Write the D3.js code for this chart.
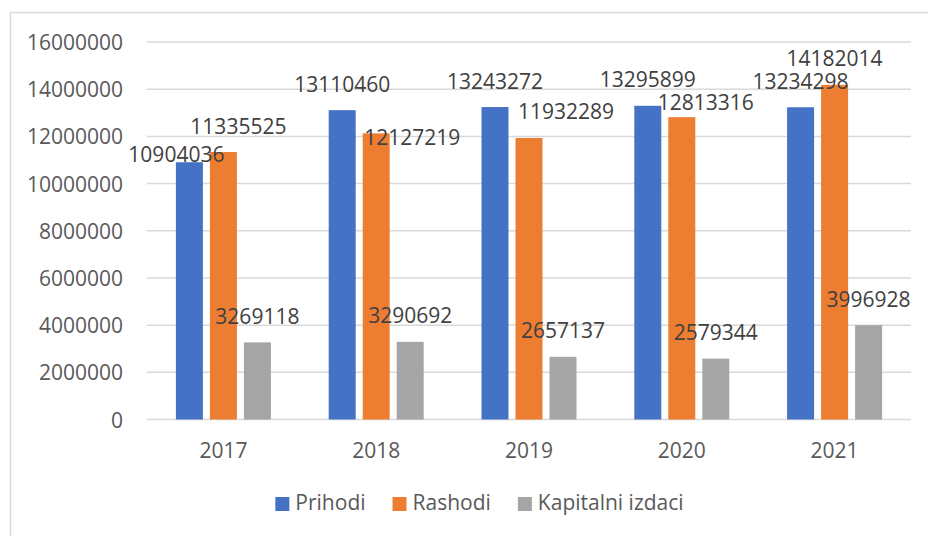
<!DOCTYPE html>
<html>
<head>
<meta charset="utf-8">
<script src="https://cdn.jsdelivr.net/npm/d3@7"></script>
<style>
  body { margin: 0; background: #fff; }
  svg { display: block; font-family: 'Open Sans', sans-serif; }
  .axis .domain { display: none; }
  .grid line { stroke: #d9d9d9; stroke-width: 1.5; }
</style>
</head>
<body>
<div id="chart"></div>
<script>
const years = ['2017', '2018', '2019', '2020', '2021'];
const seriesNames = ['Prihodi', 'Rashodi', 'Kapitalni izdaci'];
const prihodi = [10904036, 13110460, 13243272, 13295899, 13234298];
const rashodi = [11335525, 12127219, 11932289, 12813316, 14182014];
const kapitalniIzdaci = [3269118, 3290692, 2657137, 2579344, 3996928];
const yTicks = [0, 2000000, 4000000, 6000000, 8000000, 10000000, 12000000, 14000000, 16000000];

const colors = ['#4472c4', '#ed7d31', '#a5a5a5'];
// hand-moved data labels in the original (dx, dy in px), per series per year
const labelNudge = [
  [[-13, 18], [0, 0], [0, 0], [0, 0], [0, 0]],
  [[15, 0], [36, 30], [37, 0], [24, 11], [0, 0]],
  [[0, 0], [0, 0], [0, 0], [0, 0], [0, 0]],
];

const width = 928;
const height = 536;
const plot = { left: 147, right: 911, top: 42, bottom: 419.5 };

const svg = d3.select('#chart').append('svg')
  .attr('width', width)
  .attr('height', height);

// chart area border
svg.append('rect')
  .attr('x', 10.5)
  .attr('y', 12.5)
  .attr('width', 960)
  .attr('height', 600)
  .attr('fill', 'none')
  .attr('stroke', '#d9d9d9')
  .attr('stroke-width', 1.5);

const yScale = d3.scaleLinear()
  .domain([0, 16000000])
  .range([plot.bottom, plot.top]);

const xScale = d3.scaleBand()
  .domain(years)
  .range([plot.left, plot.right]);

const innerScale = d3.scaleBand()
  .domain(seriesNames)
  .range([-47.5, 47.5])
  .paddingInner(0.206);

// gridlines
svg.append('g')
  .attr('class', 'grid')
  .selectAll('line')
  .data(yTicks)
  .enter().append('line')
  .attr('x1', plot.left)
  .attr('x2', plot.right)
  .attr('y1', function(d) { return yScale(d); })
  .attr('y2', function(d) { return yScale(d); })
  .attr('stroke-width', function(d) { return d === 0 ? 2 : 1.5; });

// y axis labels
const yAxis = d3.axisLeft(yScale)
  .tickValues(yTicks)
  .tickSize(0)
  .tickPadding(0)
  .tickFormat(d3.format('d'));

svg.append('g')
  .attr('class', 'axis y')
  .attr('transform', 'translate(123,0)')
  .call(yAxis)
  .selectAll('text')
  .attr('fill', '#595959')
  .attr('font-size', 21)
  .attr('font-family', "'Open Sans', sans-serif")
  .attr('dy', '0.36em');

// x axis labels
const xAxis = d3.axisBottom(xScale)
  .tickSize(0)
  .tickPadding(0);

svg.append('g')
  .attr('class', 'axis x')
  .attr('transform', 'translate(0,458)')
  .call(xAxis)
  .selectAll('text')
  .attr('y', 0)
  .attr('dy', 0)
  .attr('fill', '#595959')
  .attr('font-size', 21)
  .attr('font-family', "'Open Sans', sans-serif");

const seriesValues = [prihodi, rashodi, kapitalniIzdaci];
const barData = [];
seriesValues.forEach(function(values, s) {
  values.forEach(function(v, i) {
    barData.push({ series: seriesNames[s], s: s, i: i, year: years[i], value: v });
  });
});

svg.append('g')
  .selectAll('rect')
  .data(barData)
  .enter().append('rect')
  .attr('x', function(d) { return xScale(d.year) + xScale.bandwidth() / 2 + innerScale(d.series); })
  .attr('y', function(d) { return yScale(d.value); })
  .attr('width', innerScale.bandwidth())
  .attr('height', function(d) { return yScale(0) - yScale(d.value); })
  .attr('fill', function(d) { return colors[d.s]; });

svg.append('g')
  .selectAll('text')
  .data(barData)
  .enter().append('text')
  .attr('x', function(d) {
    return xScale(d.year) + xScale.bandwidth() / 2 + innerScale(d.series) + innerScale.bandwidth() / 2 + labelNudge[d.s][d.i][0];
  })
  .attr('y', function(d) { return yScale(d.value) - 18.5 + labelNudge[d.s][d.i][1]; })
  .attr('text-anchor', 'middle')
  .attr('font-size', 21)
  .attr('fill', '#404040')
  .text(function(d) { return d.value; });

// legend
const legend = svg.append('g')
  .attr('transform', 'translate(0,510)');

const items = legend.selectAll('g')
  .data(seriesNames)
  .enter().append('g');

items.append('rect')
  .attr('x', 0)
  .attr('y', -13)
  .attr('width', 14)
  .attr('height', 14)
  .attr('fill', function(d, i) { return colors[i]; });

items.append('text')
  .attr('x', 20)
  .attr('y', 0)
  .attr('font-size', 21)
  .attr('fill', '#595959')
  .text(function(d) { return d; });

let offset = 0;
const widths = [];
items.each(function() {
  widths.push(this.getBBox().width);
});
const totalWidth = d3.sum(widths) + 27 * (widths.length - 1);
offset = 479.5 - totalWidth / 2;
items.attr('transform', function(d, i) {
  const x = offset;
  offset += widths[i] + 27;
  return 'translate(' + x + ',0)';
});
</script>
</body>
</html>
